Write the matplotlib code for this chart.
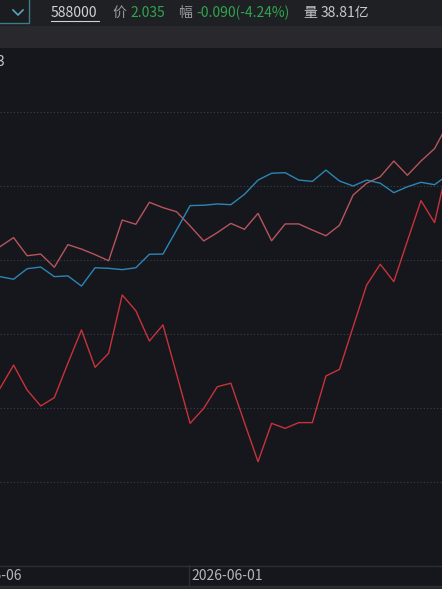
import matplotlib
matplotlib.use('Agg')
import matplotlib.pyplot as plt
import numpy as np

plt.rcParams['font.family'] = ['Noto Sans CJK SC', 'DejaVu Sans']

# ===========================
# 数据 (相对涨跌幅 %, 逐日)
# ===========================
pink_vals = [0.72, 1.21, 0.23, 0.32, -0.39, 0.83, 0.59, 0.29, -0.04, 2.16,
             1.93, 3.12, 2.83, 2.61, 1.84, 1.03, 1.48, 1.98, 1.66, 2.52,
             1.04, 1.95, 1.95, 1.62, 1.31, 1.88, 3.51, 4.15, 4.50, 5.35,
             4.58, 5.35, 6.02, 7.39]
blue_vals = [-0.90, -1.04, -0.47, -0.38, -0.90, -0.86, -1.41, -0.42, -0.45, -0.52,
             -0.42, 0.31, 0.32, 1.62, 2.94, 2.96, 3.03, 2.99, 3.55, 4.32,
             4.69, 4.72, 4.32, 4.25, 4.86, 4.27, 4.00, 4.32, 4.15, 3.64,
             3.96, 4.20, 4.07, 4.61]
red_vals = [-6.94, -5.68, -7.03, -7.89, -7.44, -5.58, -3.78, -5.80, -5.04, -1.89,
            -2.74, -4.38, -3.51, -6.16, -8.83, -8.02, -6.85, -6.66, -8.79, -10.90,
            -8.83, -9.10, -8.79, -8.79, -6.27, -5.91, -3.62, -1.35, -0.23, -1.17,
            1.03, 3.21, 2.02, 5.22]
grid_levels = [8, 4, 0, -4, -8, -12]
tick_idx = 14
tick_label = "2026-06-01"

W, H = 442, 589
BG = "#15171c"
BAR = "#1f2024"
BAND = "#29292d"

fig = plt.figure(figsize=(W / 100, H / 100), dpi=100, facecolor=BG)

# 装饰层 (像素坐标)
deco = fig.add_axes([0, 0, 1, 1])
deco.set_xlim(0, W)
deco.set_ylim(H, 0)
deco.axis('off')
deco.add_patch(plt.Rectangle((0, 0), W, 26, color=BAR, lw=0))
deco.add_patch(plt.Rectangle((0, 26), W, 22, color=BAND, lw=0))
deco.add_patch(plt.Rectangle((0, 586), W, 3, color=BAND, lw=0))
deco.add_patch(plt.Rectangle((-2, -2), 31, 25, facecolor="#1a1c20",
                             edgecolor="#3a7c88", lw=1.0))
deco.plot([13, 18, 23], [10, 15, 10], color="#5aa6b8", lw=1.2)

ty = 13
deco.text(51, ty, "588000", color="#d2d2d2", fontsize=10, va='center')
deco.plot([51, 99], [21, 21], color="#d2d2d2", lw=0.8)
deco.text(112, ty, "价", color="#9a9a9a", fontsize=10, va='center')
deco.text(130, ty, "2.035", color="#2fa54e", fontsize=10, va='center')
deco.text(178, ty, "幅", color="#9a9a9a", fontsize=10, va='center')
deco.text(196, ty, "-0.090(-4.24%)", color="#2fa54e", fontsize=10, va='center')
deco.text(303, ty, "量", color="#c8c8c8", fontsize=10, va='center')
deco.text(321, ty, "38.81亿", color="#c8c8c8", fontsize=10, va='center')
deco.text(-3, 62, "3", color="#c8c8c8", fontsize=10, va='center')

# 底部日期栏
deco.plot([0, W], [565.5, 565.5], color="#2c2f36", lw=1)
deco.plot([0, W], [586, 586], color="#2c2f36", lw=1)
deco.text(22, 576, "2026-05-06", color="#b4b6ba", fontsize=10, va='center', ha='right')

# ===========================
# 主图
# ===========================
y_top = (260 - 48) / 18.5
y_bot = (260 - 565) / 18.5
ax = fig.add_axes([0, 24 / H, 1, 517 / H])
ax.set_facecolor(BG)
x = np.arange(len(pink_vals))
for lv in grid_levels:
    ax.axhline(lv, color="#3a3f49", lw=0.8, linestyle=(0, (1, 2)))
ax.plot(x, pink_vals, color="#b8545d", lw=1.0)
ax.plot(x, blue_vals, color="#2b86b4", lw=1.0)
ax.plot(x, red_vals, color="#c8323b", lw=1.0)
ax.set_xlim(0, W / 13.58)
ax.set_ylim(y_bot, y_top)
ax.axis('off')

# 日期刻度
bx = fig.add_axes([0, 3 / H, 1, 21 / H])
bx.set_xlim(ax.get_xlim())
bx.set_ylim(0, 1)
bx.axis('off')
bx.axvline(tick_idx - 0.07, color="#2c2f36", lw=1)
bx.text(tick_idx + 0.1, 0.5, tick_label, color="#b4b6ba", fontsize=10, va='center')

fig.savefig("out.png", dpi=100, facecolor=BG)
